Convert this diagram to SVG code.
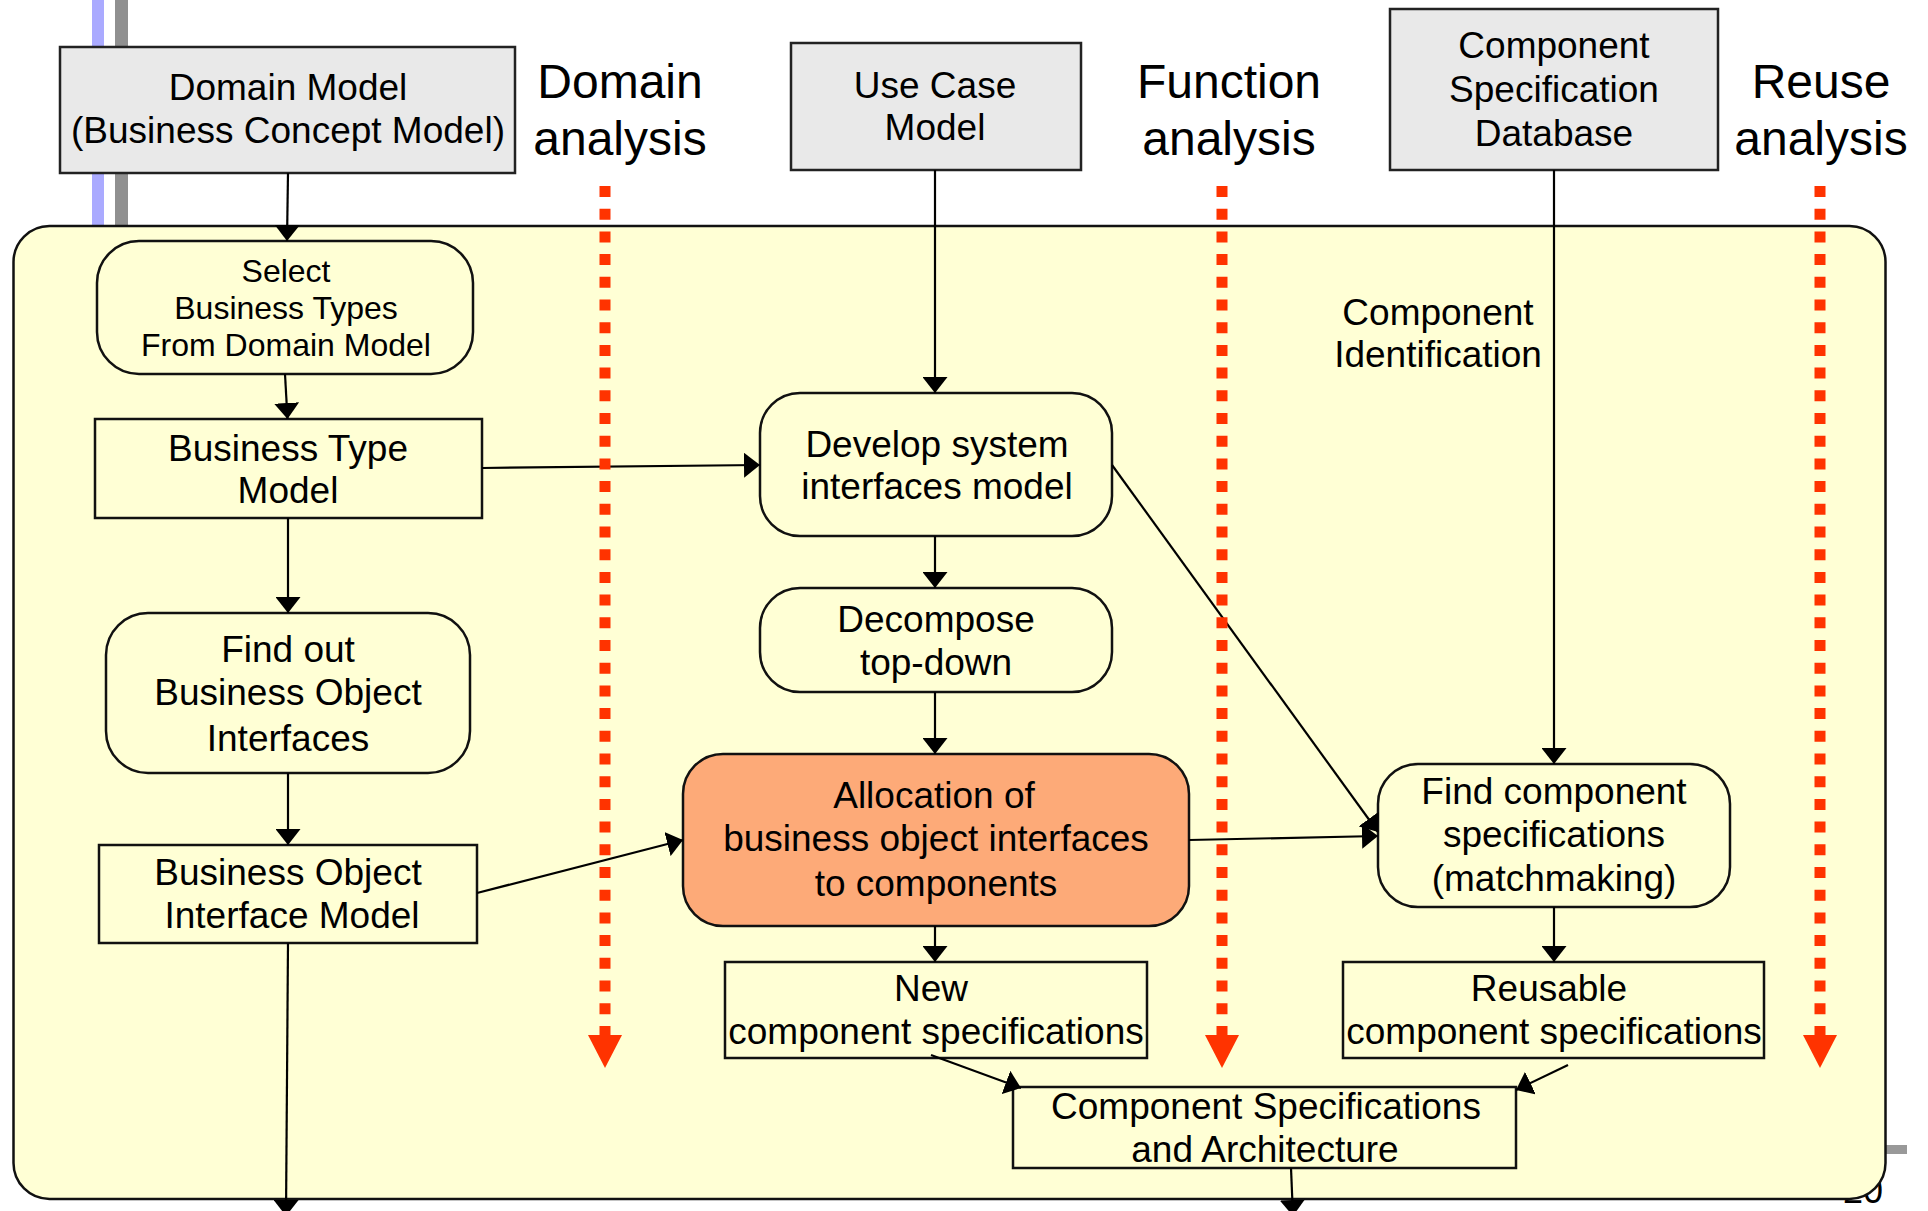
<svg xmlns="http://www.w3.org/2000/svg" width="1928" height="1211" viewBox="0 0 1928 1211">
<style>
text{font-family:"Liberation Sans",Arial,sans-serif;fill:#000;text-anchor:middle}
.t37{font-size:37px}
.t31{font-size:32px}
.t48{font-size:48px}
.grey{fill:#e9e9e9;stroke:#222;stroke-width:2.5}
.box{fill:#ffffd5;stroke:#111;stroke-width:2.5}
.hot{fill:#fdaa78;stroke:#111;stroke-width:2.5}
.con{fill:none;stroke:#000;stroke-width:2.2}
.red{fill:none;stroke:#ff3300;stroke-width:11;stroke-dasharray:11 11.7}
</style>
<defs>
<marker id="ah" viewBox="0 0 16 25" refX="16" refY="12.5" markerWidth="16" markerHeight="25" markerUnits="userSpaceOnUse" orient="auto"><path d="M0,0 L16,12.5 L0,25 z" fill="#000"/></marker>
</defs>
<rect width="1928" height="1211" fill="#fff"/>
<g id="background">
<rect x="92" y="0" width="12" height="230" fill="#aaaaff"/>
<rect x="115" y="0" width="13" height="230" fill="#909090"/>
<rect x="1886" y="1145" width="21" height="9" fill="#999"/>
<text x="1863" y="1203" style="font-size:36px">20</text>
<rect id="container" x="13.5" y="226" width="1872" height="973" rx="36" ry="36" fill="#ffffd5" stroke="#111" stroke-width="2.5"/>
</g>
<g id="domain-model"><rect class="grey" x="60" y="47" width="455" height="126"/><text class="t37" x="288" y="100">Domain Model</text><text class="t37" x="288" y="143">(Business Concept Model)</text></g>
<g id="use-case-model"><rect class="grey" x="791" y="43" width="290" height="127"/><text class="t37" x="935" y="98">Use Case</text><text class="t37" x="935" y="140">Model</text></g>
<g id="component-spec-db"><rect class="grey" x="1390" y="9" width="328" height="161"/><text class="t37" x="1554" y="58">Component</text><text class="t37" x="1554" y="102">Specification</text><text class="t37" x="1554" y="146">Database</text></g>
<g id="labels">
<text class="t48" x="620" y="98">Domain</text><text class="t48" x="620" y="155">analysis</text>
<text class="t48" x="1229" y="98">Function</text><text class="t48" x="1229" y="155">analysis</text>
<text class="t48" x="1821" y="98">Reuse</text><text class="t48" x="1821" y="155">analysis</text>
<text class="t37" x="1438" y="325">Component</text><text class="t37" x="1438" y="367">Identification</text>
</g>
<g id="select-business-types"><rect class="box" x="97" y="241" width="376" height="133" rx="42" ry="42"/><text class="t31" x="286" y="282">Select</text><text class="t31" x="286" y="319">Business Types</text><text class="t31" x="286" y="356">From Domain Model</text></g>
<g id="business-type-model"><rect class="box" x="95" y="419" width="387" height="99"/><text class="t37" x="288" y="461">Business Type</text><text class="t37" x="288" y="503">Model</text></g>
<g id="find-bo-interfaces"><rect class="box" x="106" y="613" width="364" height="160" rx="42" ry="42"/><text class="t37" x="288" y="662">Find out</text><text class="t37" x="288" y="705">Business Object</text><text class="t37" x="288" y="751">Interfaces</text></g>
<g id="bo-interface-model"><rect class="box" x="99" y="845" width="378" height="98"/><text class="t37" x="288" y="885">Business Object</text><text class="t37" x="292" y="928">Interface Model</text></g>
<g id="develop-system-interfaces"><rect class="box" x="760" y="393" width="352" height="143" rx="40" ry="40"/><text class="t37" x="937" y="457">Develop system</text><text class="t37" x="937" y="499">interfaces model</text></g>
<g id="decompose"><rect class="box" x="760" y="588" width="352" height="104" rx="40" ry="40"/><text class="t37" x="936" y="632">Decompose</text><text class="t37" x="936" y="675">top-down</text></g>
<g id="allocation"><rect class="hot" x="683" y="754" width="506" height="172" rx="40" ry="40"/><text class="t37" x="934" y="808">Allocation of</text><text class="t37" x="936" y="851">business object interfaces</text><text class="t37" x="936" y="896">to components</text></g>
<g id="find-component-specs"><rect class="box" x="1378" y="764" width="352" height="143" rx="40" ry="40"/><text class="t37" x="1554" y="804">Find component</text><text class="t37" x="1554" y="847">specifications</text><text class="t37" x="1554" y="891">(matchmaking)</text></g>
<g id="new-component-specs"><rect class="box" x="725" y="962" width="422" height="96"/><text class="t37" x="931" y="1001">New</text><text class="t37" x="936" y="1044">component specifications</text></g>
<g id="reusable-component-specs"><rect class="box" x="1343" y="962" width="421" height="96"/><text class="t37" x="1549" y="1001">Reusable</text><text class="t37" x="1554" y="1044">component specifications</text></g>
<g id="component-specs-architecture"><rect class="box" x="1013" y="1087" width="503" height="81"/><text class="t37" x="1266" y="1119">Component Specifications</text><text class="t37" x="1265" y="1162">and Architecture</text></g>
<g id="connectors">
<line class="con" x1="288" y1="173" x2="287" y2="241" marker-end="url(#ah)"/>
<line class="con" x1="285" y1="374" x2="287.5" y2="419" marker-end="url(#ah)"/>
<line class="con" x1="288" y1="518" x2="288" y2="613" marker-end="url(#ah)"/>
<line class="con" x1="288" y1="773" x2="288" y2="845" marker-end="url(#ah)"/>
<line class="con" x1="288" y1="943" x2="286" y2="1216" marker-end="url(#ah)"/>
<line class="con" x1="482" y1="468" x2="760" y2="465" marker-end="url(#ah)"/>
<line class="con" x1="477" y1="893" x2="683" y2="840" marker-end="url(#ah)"/>
<line class="con" x1="935" y1="170" x2="935" y2="393" marker-end="url(#ah)"/>
<line class="con" x1="935" y1="536" x2="935" y2="588" marker-end="url(#ah)"/>
<line class="con" x1="935" y1="692" x2="935" y2="754" marker-end="url(#ah)"/>
<line class="con" x1="935" y1="926" x2="935" y2="962" marker-end="url(#ah)"/>
<line class="con" x1="1189" y1="840" x2="1378" y2="836" marker-end="url(#ah)" stroke-width="3"/>
<line class="con" x1="1112" y1="465" x2="1378" y2="832" marker-end="url(#ah)"/>
<line class="con" x1="1554" y1="170" x2="1554" y2="764" marker-end="url(#ah)"/>
<line class="con" x1="1554" y1="907" x2="1554" y2="962" marker-end="url(#ah)"/>
<line class="con" x1="931" y1="1055" x2="1021" y2="1088" marker-end="url(#ah)"/>
<line class="con" x1="1568" y1="1065" x2="1516" y2="1090" marker-end="url(#ah)"/>
<line class="con" x1="1291" y1="1168" x2="1293" y2="1216" marker-end="url(#ah)"/>
</g>
<g id="analysis-lanes">
<line class="red" x1="605" y1="186" x2="605" y2="1035"/>
<polygon points="588,1035 622,1035 605,1068" fill="#ff3300"/>
<line class="red" x1="1222" y1="186" x2="1222" y2="1035"/>
<polygon points="1205,1035 1239,1035 1222,1068" fill="#ff3300"/>
<line class="red" x1="1820" y1="186" x2="1820" y2="1035"/>
<polygon points="1803,1035 1837,1035 1820,1068" fill="#ff3300"/>
</g>
</svg>
